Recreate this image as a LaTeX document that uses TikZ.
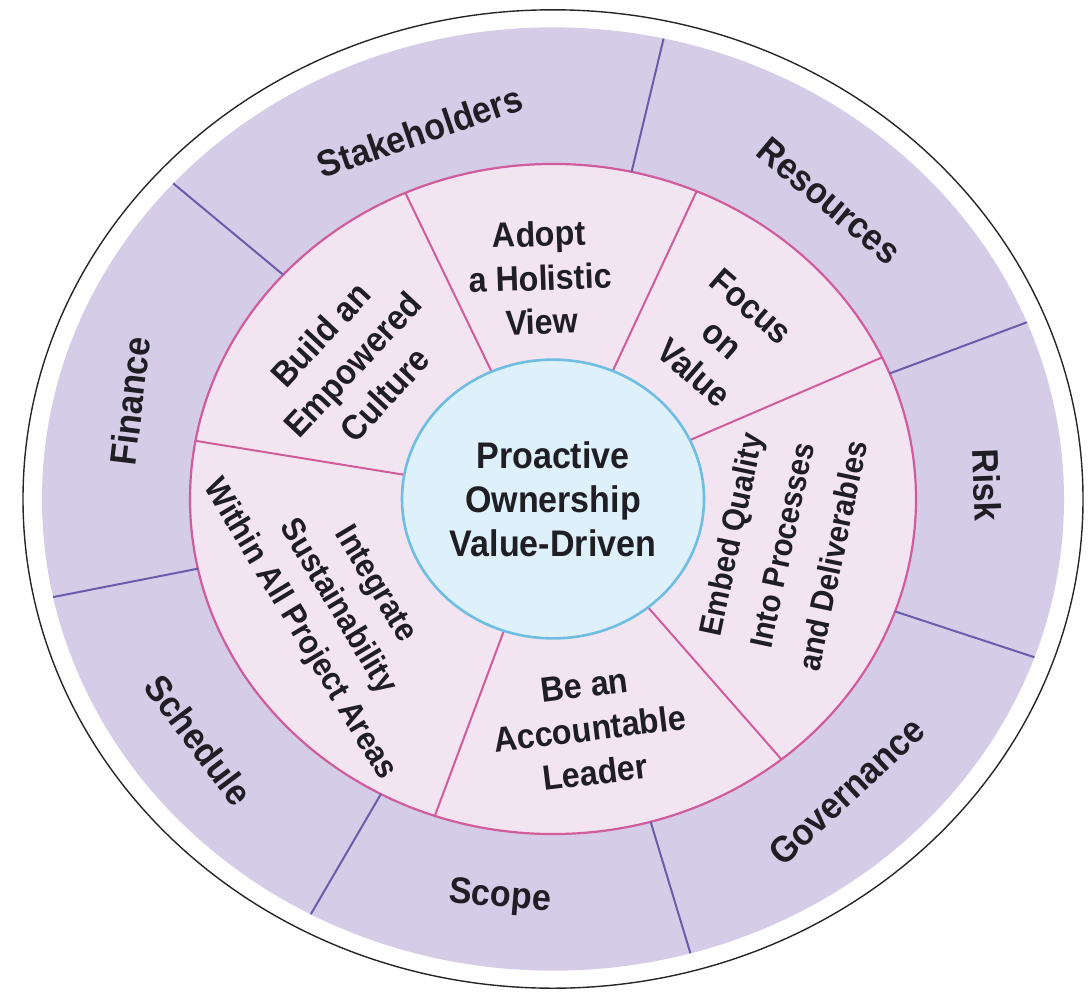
\documentclass[tikz,border=0pt]{standalone}
\usepackage{fontspec}
\usepackage{xcolor}
\usepackage{tikz}
\newfontfamily\wheelfont{Liberation Sans}[FakeStretch=0.92]

\definecolor{ringpurple}{RGB}{213,205,231}
\definecolor{ringpink}{RGB}{243,228,241}
\definecolor{hubblue}{RGB}{222,240,250}
\definecolor{hubedge}{RGB}{110,190,226}
\definecolor{pinkline}{RGB}{208,92,156}
\definecolor{purpleline}{RGB}{106,92,170}
\definecolor{labeltext}{RGB}{30,30,36}

\tikzset{
  outerlabel/.style={inner sep=0pt, align=center, text=labeltext, font=\wheelfont\bfseries\fontsize{18.5}{22}\selectfont},
  innerlabel/.style={inner sep=0pt, align=center, text=labeltext, font=\wheelfont\bfseries\fontsize{17.5}{22}\selectfont},
}

\begin{document}
\begin{tikzpicture}[x=0.5pt,y=0.5pt,yscale=-1,xscale=1]
\path[use as bounding box] (0,0) rectangle (1090,995);

\begin{scope}[shift={(553,499)},yscale=-0.923]
%Shape: Circle (outline)
\draw [black!85, line width=0.7pt] (0,0) circle (530);
%Shape: Circle (outer ring)
\fill [ringpurple] (0,0) circle (511);
%Shape: Circle (inner ring)
\draw [pinkline, line width=1.1pt, fill=ringpink] (0,0) circle (363);

%Straight Lines (outer dividers)
\foreach \a in {138,77.5,22,-19.6,-74.4,-118.3,192}
  \draw [purpleline, line width=1pt] (\a:363) -- (\a:511);
%Straight Lines (inner dividers)
\foreach \a in {114,66.7,25,-51,-109,170}
  \draw [pinkline, line width=1pt] (\a:151) -- (\a:363);

%Shape: Circle (hub)
\draw [hubedge, line width=1.3pt, fill=hubblue] (0,0) circle (151);

% Text Node
\node (hub) at (0,0) [outerlabel] {Proactive\\Ownership\\Value-Driven};

% Text Node
\node (stake) at (108.5:420) [outerlabel, rotate=19] {Stakeholders};
% Text Node
\node (resources) at (49.5:425) [outerlabel, rotate=-40] {Resources};
% Text Node
\node (risk) at (2:434) [outerlabel, rotate=-88] {Risk};
% Text Node
\node (governance) at (-47.2:432) [outerlabel, rotate=43] {Governance};
% Text Node
\node (scope) at (-97:435) [outerlabel, rotate=-5] {Scope};
% Text Node
\node (schedule) at (-143.6:440) [outerlabel, rotate=-53] {Schedule};
% Text Node
\node (finance) at (165.9:436) [outerlabel, rotate=83] {Finance};

% Text Node
\node (holistic) at (93:240) [innerlabel, rotate=2] {Adopt\\a Holistic\\View};
% Text Node
\node (value) at (45.5:242) [innerlabel, rotate=-41] {Focus\\on\\Value};
% Text Node
\node (quality) at (-12.3:234) [innerlabel, rotate=78, font=\wheelfont\bfseries\fontsize{16}{26}\selectfont] {Embed Quality\\Into Processes\\and Deliverables};
% Text Node
\node (leader) at (-81.6:252) [innerlabel, rotate=7] {Be an\\Accountable\\Leader};
% Text Node
\node (sustain) at (-151.5:246) [innerlabel, rotate=-59, font=\wheelfont\bfseries\fontsize{16.5}{22}\selectfont] {Integrate\\Sustainability\\Within All Project Areas};
% Text Node
\node (culture) at (144:248) [innerlabel, rotate=47] {Build an\\Empowered\\Culture};
\end{scope}

\end{tikzpicture}
\end{document}
